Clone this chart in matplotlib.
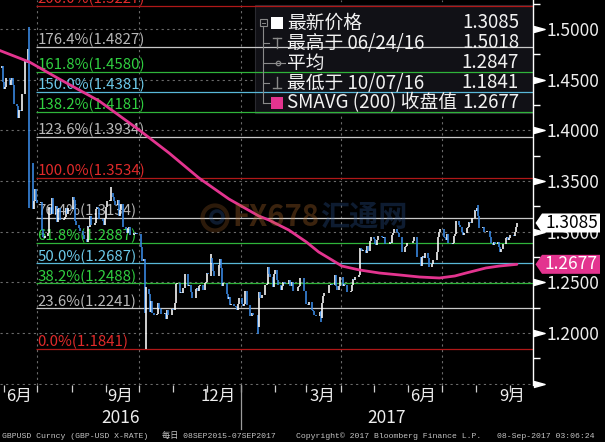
import numpy as np
import pandas as pd
import matplotlib
matplotlib.use('Agg')
import matplotlib.pyplot as plt
import matplotlib.dates as mdates
from matplotlib.lines import Line2D
from matplotlib.patches import Rectangle, Polygon, Circle
from matplotlib.ticker import MultipleLocator, FuncFormatter, NullFormatter
from matplotlib.transforms import blended_transform_factory, ScaledTranslation

plt.rcParams['font.family'] = ['Noto Sans CJK SC', 'DejaVu Sans']

# ------------------------------------------------------------------ data
start_date = '2016-05-27'
closes = [
    1.4615,
    1.4630, 1.4480, 1.4410, 1.4430, 1.4520,   # 2016-05-30
    1.4445, 1.4500, 1.4515, 1.4445, 1.4260,   # 06-06
    1.4240, 1.4120, 1.4200, 1.4195, 1.4360,   # 06-13
    1.4680, 1.4685, 1.4665, 1.4800, 1.3680,   # 06-20
    1.3224, 1.3302, 1.3420, 1.3311, 1.3278,   # 06-27
    1.3295, 1.3019, 1.2948, 1.2940, 1.2952,   # 07-04
    1.2985, 1.3246, 1.3169, 1.3330, 1.3170,   # 07-11
    1.3250, 1.3090, 1.3220, 1.3235, 1.3110,   # 07-18
    1.3125, 1.3145, 1.3230, 1.3170, 1.3235,   # 07-25
    1.3220, 1.3345, 1.3310, 1.3105, 1.3065,   # 08-01
    1.3040, 1.3005, 1.3010, 1.2970, 1.2930,   # 08-08
    1.2895, 1.3055, 1.3045, 1.3155, 1.3070,   # 08-15
    1.3085, 1.3220, 1.3240, 1.3235, 1.3120,   # 08-22
    1.3105, 1.3070, 1.3135, 1.3240, 1.3300,   # 08-29
    1.3315, 1.3385, 1.3345, 1.3305, 1.3265,   # 09-05
    1.3310, 1.3150, 1.3210, 1.3270, 1.3045,   # 09-12
    1.3030, 1.2985, 1.3035, 1.3050, 1.2970,   # 09-19
    1.2990, 1.2980, 1.2985, 1.2975, 1.2975,   # 09-26
    1.2845, 1.2710, 1.2725, 1.2200, 1.2430,   # 10-03
    1.2380, 1.2205, 1.2310, 1.2200, 1.2175,   # 10-10
    1.2185, 1.2295, 1.2245, 1.2240, 1.2190,   # 10-17
    1.2195, 1.2135, 1.2230, 1.2180, 1.2175,   # 10-24
    1.2240, 1.2230, 1.2300, 1.2480, 1.2490,   # 10-31
    1.2395, 1.2405, 1.2390, 1.2445, 1.2585,   # 11-07
    1.2460, 1.2470, 1.2470, 1.2400, 1.2345,   # 11-14
    1.2430, 1.2445, 1.2415, 1.2460, 1.2475,   # 11-21
    1.2420, 1.2490, 1.2505, 1.2590, 1.2580,   # 11-28
    1.2740, 1.2690, 1.2615, 1.2565, 1.2560,   # 12-05
    1.2675, 1.2725, 1.2640, 1.2460, 1.2490,   # 12-12
    1.2385, 1.2330, 1.2355, 1.2275, 1.2285,   # 12-19
    1.2270, 1.2260, 1.2225, 1.2290, 1.2340,   # 12-26
    1.2290, 1.2265, 1.2290, 1.2410, 1.2280,   # 2017-01-02
    1.2170, 1.2170, 1.2200, 1.2180, 1.2180,   # 01-09
    1.2060, 1.2405, 1.2340, 1.2340, 1.2370,   # 01-16
    1.2475, 1.2480, 1.2650, 1.2585, 1.2555,   # 01-23
    1.2450, 1.2585, 1.2620, 1.2520, 1.2475,   # 01-30
    1.2420, 1.2460, 1.2505, 1.2490, 1.2485,   # 02-06
    1.2525, 1.2465, 1.2460, 1.2500, 1.2410,   # 02-13
    1.2415, 1.2455, 1.2460, 1.2545, 1.2545,   # 02-20
    1.2415, 1.2410, 1.2290, 1.2275, 1.2305,   # 02-27
    1.2230, 1.2215, 1.2180, 1.2175, 1.2170,   # 03-06
    1.2210, 1.2150, 1.2295, 1.2365, 1.2395,   # 03-13
    1.2395, 1.2470, 1.2475, 1.2485, 1.2475,   # 03-20
    1.2575, 1.2465, 1.2420, 1.2460, 1.2550,   # 03-27
    1.2460, 1.2480, 1.2475, 1.2470, 1.2405,   # 04-03
    1.2410, 1.2470, 1.2530, 1.2520, 1.2555,   # 04-10
    1.2570, 1.2840, 1.2825, 1.2810, 1.2815,   # 04-17
    1.2790, 1.2860, 1.2810, 1.2910, 1.2945,   # 04-24
    1.2925, 1.2875, 1.2865, 1.2915, 1.2955,   # 05-01
    1.2945, 1.2935, 1.2945, 1.2880, 1.2880,   # 05-08
    1.2895, 1.2885, 1.2965, 1.2990, 1.3030,   # 05-15
    1.3000, 1.2990, 1.2945, 1.2945, 1.2800,   # 05-22
    1.2845, 1.2855, 1.2885, 1.2885, 1.2885,   # 05-29
    1.2910, 1.2945, 1.2945, 1.2950, 1.2745,   # 06-05
    1.2660, 1.2745, 1.2755, 1.2740, 1.2785,   # 06-12
    1.2740, 1.2650, 1.2655, 1.2685, 1.2720,   # 06-19
    1.2715, 1.2800, 1.2950, 1.3000, 1.3025,   # 06-26
    1.2945, 1.2940, 1.2920, 1.2975, 1.2885,   # 07-03
    1.2875, 1.2885, 1.2960, 1.2980, 1.3100,   # 07-10
    1.3070, 1.3045, 1.2995, 1.2965, 1.2990,   # 07-17
    1.3040, 1.3045, 1.3090, 1.3085, 1.3135,   # 07-24
    1.3210, 1.3205, 1.3235, 1.3155, 1.3035,   # 07-31
    1.3045, 1.2995, 1.2995, 1.2995, 1.3010,   # 08-07
    1.2950, 1.2890, 1.2870, 1.2895, 1.2875,   # 08-14
    1.2895, 1.2845, 1.2800, 1.2830, 1.2880,   # 08-21
    1.2940, 1.2945, 1.2915, 1.2935, 1.2965,   # 08-28
    1.2955, 1.2995, 1.3050, 1.3085,           # 09-04
]

wick_dates = ['2016-06-24', '2016-09-06', '2016-10-07', '2016-12-05',
              '2017-01-16', '2017-03-14', '2017-08-03']
wick_highs = [1.5018, 1.3445, 1.2450, 1.2775, 1.2100, 1.2220, 1.3267]
wick_lows = [1.3229, 1.3300, 1.1841, 1.2560, 1.1986, 1.2109, 1.3150]

sma_dates = ['2016-05-27', '2016-06-24', '2016-07-21', '2016-08-26', '2016-10-01',
             '2016-10-28', '2016-11-24', '2016-12-21', '2017-01-17', '2017-01-26',
             '2017-02-13', '2017-03-01', '2017-03-12', '2017-03-24', '2017-04-02',
             '2017-04-18', '2017-05-06', '2017-05-24', '2017-06-11', '2017-06-29',
             '2017-07-13', '2017-07-23', '2017-08-10', '2017-08-22', '2017-09-07']
sma_values = [1.4793, 1.4674, 1.4506, 1.4289, 1.4003, 1.3776, 1.3529, 1.3322,
              1.3154, 1.3115, 1.3016, 1.2897, 1.2799, 1.2720, 1.2660, 1.2621,
              1.2591, 1.2572, 1.2552, 1.2542, 1.2562, 1.2591, 1.2641, 1.2660, 1.2677]

fib_pcts = [0.0, 23.6, 38.2, 50.0, 61.8, 76.4, 100.0, 123.6, 138.2, 150.0, 161.8, 176.4, 200.0]
fib_values = [1.1841, 1.2241, 1.2488, 1.2687, 1.2887, 1.3134, 1.3534, 1.3934,
              1.4181, 1.4381, 1.4580, 1.4827, 1.5227]
fib_kinds = ['red', 'gray', 'green', 'cyan', 'green', 'gray', 'red', 'gray',
             'green', 'cyan', 'green', 'gray', 'red']
fib_start = '2016-06-30'

legend_names = ['最新价格', '最高于 06/24/16', '平均', '最低于 10/07/16', 'SMAVG (200) 收盘值']
legend_values = ['1.3085', '1.5018', '1.2847', '1.1841', '1.2677']

month_labels = ['6月', '9月', '12月', '3月', '6月', '9月']
month_label_ends = ['2016-07-01', '2016-10-01', '2017-01-01', '2017-04-01', '2017-07-01', None]
year_labels = ['2016', '2017']
year_break = '2017-01-01'
quarter_lines = ['2016-07-01', '2016-10-01', '2017-01-01', '2017-04-01', '2017-07-01']

footer_parts = ['GBPUSD Curncy (GBP-USD X-RATE)', '每日 08SEP2015-07SEP2017',
                'Copyright\u00a9 2017 Bloomberg Finance L.P.', '08-Sep-2017 03:06:24']

x_start = pd.Timestamp('2016-05-28 10:00')
x_end = pd.Timestamp('2017-09-21 12:00')
y_low, y_high = 1.14857, 1.52863

# ------------------------------------------------------------------ styles
W, H = 605, 442
fib_line_col = {'red': '#b01818', 'gray': '#c8c8c8', 'green': '#2fb43a', 'cyan': '#58b8d8'}
fib_text_col = {'red': '#e02a2a', 'gray': '#b8b8b8', 'green': '#30d040', 'cyan': '#6ccaea'}
up_col, down_col = '#ffffff', '#3a8ce8'
sma_col = '#e3348f'
grid_col = '#6a6a6a'

fig = plt.figure(figsize=(W / 100, H / 100), dpi=100, facecolor='black')
ax = fig.add_axes([0, 57 / H, 533 / W, 385 / H], facecolor='black')


def fx(px):
    return px / W


def fy(py):
    return 1 - py / H


def dn(d):
    return mdates.date2num(pd.Timestamp(d))


# ------------------------------------------------------------------ prices
dates = pd.bdate_range(start_date, periods=len(closes))
c = np.array(closes)
o = np.r_[c[0], c[:-1]]
hi = np.maximum(o, c)
lo = np.minimum(o, c)
wd = pd.to_datetime(wick_dates)
for d, wh, wl in zip(wd, wick_highs, wick_lows):
    idx = np.where(dates == d)[0]
    if len(idx):
        i = idx[0]
        hi[i] = max(hi[i], wh)
        lo[i] = min(lo[i], wl)
cols = [up_col if cc >= oo else down_col for cc, oo in zip(c, o)]
xd = mdates.date2num(dates)
ax.vlines(xd[1:], lo[1:], hi[1:], colors=cols[1:], lw=1.15, zorder=4)

# SMA
ax.plot(mdates.date2num(pd.to_datetime(sma_dates)), sma_values, color=sma_col, lw=2.0,
        zorder=6, solid_capstyle='round')

# fib lines + labels
fs = dn(fib_start)
for p, v, k in zip(fib_pcts, fib_values, fib_kinds):
    ax.hlines(v, fs, dn(x_end), colors=fib_line_col[k], lw=0.9, zorder=2)
    ax.annotate(f'{p:.1f}%({v:.4f})', xy=(fs, v), xytext=(0.8, 1.8),
                textcoords='offset points', color=fib_text_col[k], fontsize=10.8,
                ha='left', va='baseline', zorder=3, annotation_clip=False)

# grid
for yv in np.arange(1.15, 1.501, 0.05):
    ax.axhline(yv, color=grid_col, lw=0.8, ls=(0, (2, 3)), zorder=1)
for q in quarter_lines:
    ax.axvline(dn(q), color=grid_col, lw=0.8, ls=(0, (2, 3)), zorder=1)

ax.set_xlim(dn(x_start), dn(x_end))
ax.set_ylim(y_low, y_high)

for s in ['left', 'top', 'bottom']:
    ax.spines[s].set_visible(False)
ax.spines['right'].set_color('white')
ax.spines['right'].set_linewidth(1.0)

# y axis (right)
ax.yaxis.tick_right()
ax.yaxis.set_major_locator(MultipleLocator(0.05))
ax.yaxis.set_minor_locator(MultipleLocator(0.025))
ax.yaxis.set_major_formatter(FuncFormatter(lambda v, _: '' if v < 1.17 else f'{v:.4f}'))
ax.tick_params(axis='y', which='major', length=0, pad=10, labelsize=12.5, labelcolor='#eeeeee')
ax.tick_params(axis='y', which='minor', length=5, width=1, color='white', direction='out')
ax.tick_params(axis='y', which='both', left=False, right=True)

btrans = blended_transform_factory(ax.transAxes, ax.transData)
majors = np.arange(1.15, 1.501, 0.05)
tri = [(-1, -0.55), (1, 0), (-1, 0.55)]
ax.plot([1.0 + 5.5 / 533] * len(majors), majors, ls='none', marker=tri, ms=8,
        color='white', mec='white', transform=btrans, clip_on=False, zorder=7)

# x axis
ax.xaxis.set_major_locator(mdates.MonthLocator())
ax.xaxis.set_major_formatter(NullFormatter())
ax.tick_params(axis='x', which='major', length=5, width=0.9, color='#cfcfcf', direction='out')

xtrans = blended_transform_factory(ax.transData, ax.transAxes)
for lab, end in zip(month_labels, month_label_ends):
    if end is None:
        ax.annotate(lab, xy=(1.0, 0), xycoords='axes fraction', xytext=(-5.5, -8),
                    textcoords='offset points', ha='right', va='center',
                    color='#eeeeee', fontsize=12, annotation_clip=False)
    else:
        ax.annotate(lab, xy=(dn(end), 0), xycoords=xtrans, xytext=(-4, -8),
                    textcoords='offset points', ha='right', va='center',
                    color='#eeeeee', fontsize=12, annotation_clip=False)

yb = dn(year_break)
x0n, x1n = dn(x_start), dn(x_end)
centers = [(x0n + yb) / 2, (yb + x1n) / 2]
for lab, cx in zip(year_labels, centers):
    ax.annotate(lab, xy=(cx, 0), xycoords=xtrans, xytext=(0, -24),
                textcoords='offset points', ha='center', va='center',
                color='#eeeeee', fontsize=12.5, annotation_clip=False)
ax.plot([yb, yb], [0, -44 / 385], transform=xtrans, clip_on=False,
        color='#9c9c9c', lw=0.9, zorder=5)

# ------------------------------------------------------------------ legend
leg_box = Rectangle((fx(255), fy(113)), fx(533) - fx(255), fy(5) - fy(113),
                    transform=fig.transFigure, facecolor='#111116', edgecolor='#2a2a30',
                    lw=0.8, zorder=1.5, clip_on=False)
ax.add_patch(leg_box)

row_y = [23, 43, 63, 83, 103]
for name, val, ry in zip(legend_names, legend_values, row_y):
    fig.text(fx(287), fy(ry), name, color='#f2f2f2', fontsize=13.5, ha='left', va='center')
    fig.text(fx(519), fy(ry), val, color='#f2f2f2', fontsize=13.5, ha='right', va='center')

icon_col = '#8a8a8a'


def pxline(xs, ys, **kw):
    fig.add_artist(Line2D([fx(x) for x in xs], [fy(y) for y in ys],
                          transform=fig.transFigure, **kw))


# tree
fig.add_artist(Rectangle((fx(259.5), fy(26)), fx(7), fy(19) - fy(26), transform=fig.transFigure,
                         facecolor='none', edgecolor=icon_col, lw=0.8))
pxline([261.5, 264.5], [22.5, 22.5], color=icon_col, lw=0.7)
pxline([263, 263], [26, 103], color=icon_col, lw=0.8)
for ry in row_y[1:4]:
    pxline([263, 269], [ry, ry], color=icon_col, lw=0.8)
pxline([263, 270], [103, 103], color=icon_col, lw=0.8)
# squares
fig.add_artist(Rectangle((fx(271), fy(29)), fx(12), fy(17) - fy(29), transform=fig.transFigure,
                         facecolor='white', edgecolor='none'))
fig.add_artist(Rectangle((fx(271), fy(109)), fx(12), fy(97) - fy(109), transform=fig.transFigure,
                         facecolor=sma_col, edgecolor='none'))
# high icon (T)
pxline([273, 281], [37.5, 37.5], color=icon_col, lw=1.0)
pxline([277, 277], [37.5, 48], color=icon_col, lw=1.0)
# average icon
pxline([270, 285], [63, 63], color=icon_col, lw=0.8)
fig.add_artist(Line2D([fx(277.5)], [fy(63)], transform=fig.transFigure, marker='o', ms=3.2,
                      mfc='none', mec=icon_col, mew=0.9, ls='none'))
# low icon
pxline([277, 277], [77, 88], color=icon_col, lw=1.0)
pxline([273, 281], [88, 88], color=icon_col, lw=1.0)

# ------------------------------------------------------------------ price tags
tag = [(0.025, 0), (0.09, 0.095), (0.67, 0.095), (0.67, -0.095), (0.09, -0.095)]
for val, face, tcol in [(closes[-1], 'white', 'black'), (sma_values[-1], sma_col, 'white')]:
    tr = fig.dpi_scale_trans + ScaledTranslation(1.0, val, btrans)
    fig.add_artist(Polygon(tag, closed=True, transform=tr, facecolor=face,
                           edgecolor='none', zorder=5))
    fig.text(0.385, 0.0, f'{val:.4f}', transform=tr, color=tcol, fontsize=12.5,
             ha='center', va='center', zorder=6)

# ------------------------------------------------------------------ watermark
fig.add_artist(Circle((2.15, (H - 218) / 100), 0.125, transform=fig.dpi_scale_trans,
                      facecolor='none', edgecolor='#b0682a', lw=3, alpha=0.25))
fig.add_artist(Circle((2.17, (H - 217) / 100), 0.06, transform=fig.dpi_scale_trans,
                      facecolor='none', edgecolor='#2f5c9c', lw=2.5, alpha=0.3))
fig.text(fx(232), fy(217), 'FX678', color='#b8702c', alpha=0.32, fontsize=21,
         fontweight='bold', ha='left', va='center')
fig.text(fx(320), fy(217), '汇通网', color='#2d5a9a', alpha=0.32, fontsize=21,
         fontweight='bold', ha='left', va='center')

# ------------------------------------------------------------------ footer
footer_x = [2, 162, 296, 497]
for txt, x0 in zip(footer_parts, footer_x):
    fig.text(fx(x0), fy(436), txt, color='#c4c4c4', fontsize=5.9,
             family=['Liberation Mono', 'Noto Sans CJK SC'], ha='left', va='center')

fig.savefig('out.png', dpi=100, facecolor='black')
